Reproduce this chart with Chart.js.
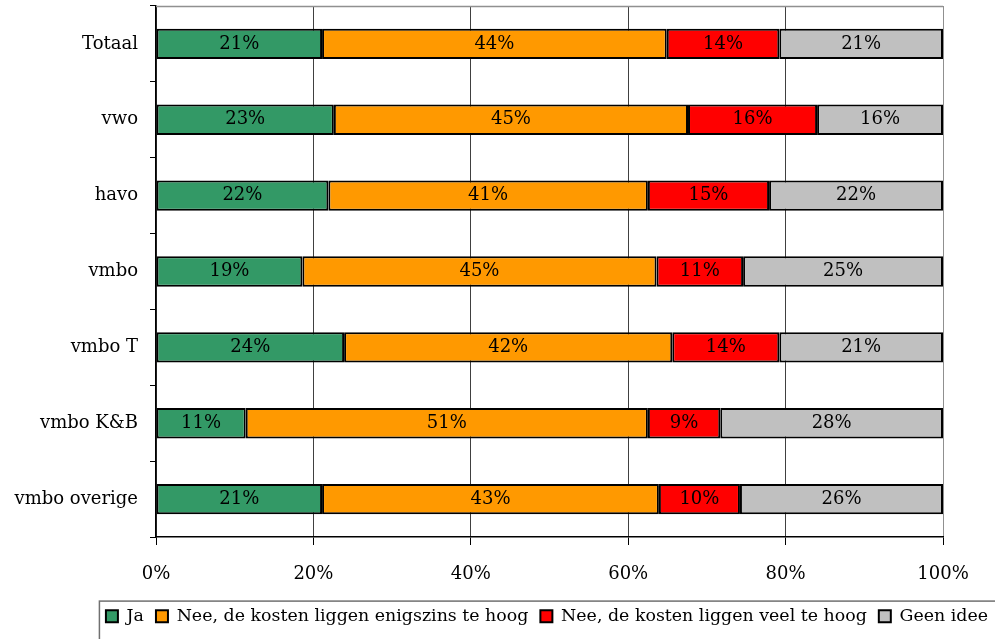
<!DOCTYPE html>
<html>
<head>
<meta charset="utf-8">
<script src="https://cdn.jsdelivr.net/npm/chart.js@4/dist/chart.umd.min.js"></script>
<style>
html,body{margin:0;padding:0;background:#fff;}
#wrap{width:995px;height:639px;position:relative;}
</style>
</head>
<body>
<div id="wrap"><canvas id="c" width="995" height="639"></canvas></div>
<script>
const categories = ['Totaal', 'vwo', 'havo', 'vmbo', 'vmbo T', 'vmbo K&B', 'vmbo overige'];
const seriesNames = ['Ja', 'Nee, de kosten liggen enigszins te hoog', 'Nee, de kosten liggen veel te hoog', 'Geen idee'];
const ja        = [21.1, 22.6, 21.9, 18.6, 23.9, 11.4, 21.1];
const enigszins = [43.8, 45.0, 40.6, 45.0, 41.7, 51.1, 42.8];
const veel      = [14.3, 16.4, 15.4, 11.0, 13.6, 9.2, 10.3];
const geenIdee  = [20.8, 16.0, 22.1, 25.4, 20.8, 28.3, 25.8];
const xTicks = [0, 20, 40, 60, 80, 100];

const colors = ['#339966', '#FF9900', '#FF0000', '#C0C0C0'];
const FONT = 'DejaVu Serif';
const FS = 18;
const LEGEND_FS = 17.4;

const seriesData = [ja, enigszins, veel, geenIdee];

const labelPlugin = {
  id: 'segLabels',
  afterDatasetsDraw(chart) {
    const ctx = chart.ctx;
    ctx.save();
    ctx.font = FS + 'px "' + FONT + '"';
    ctx.fillStyle = '#000';
    ctx.textAlign = 'center';
    ctx.textBaseline = 'middle';
    chart.data.datasets.forEach((ds, i) => {
      const meta = chart.getDatasetMeta(i);
      meta.data.forEach((bar, j) => {
        const v = ds.data[j];
        const p = bar.getProps(['x', 'base', 'y'], true);
        ctx.fillText(Math.round(v) + '%', (p.x + p.base) / 2, p.y);
      });
    });
    ctx.restore();
  }
};

const framePlugin = {
  id: 'frame',
  beforeDatasetsDraw(chart) {
    const a = chart.chartArea, ctx = chart.ctx;
    ctx.save();
    ctx.strokeStyle = '#909090';
    ctx.lineWidth = 1.5;
    ctx.beginPath();
    ctx.moveTo(a.left, a.top + 0.5);
    ctx.lineTo(a.right, a.top + 0.5);
    ctx.stroke();
    ctx.restore();
  },
  afterDraw(chart) {
    const lg = chart.legend;
    if (!lg || !lg.legendHitBoxes || !lg.legendHitBoxes.length) return;
    const hb = lg.legendHitBoxes;
    const ctx = chart.ctx;
    const left = hb[0].left - 7;
    const top = hb[0].top - 7;
    ctx.save();
    ctx.strokeStyle = '#707070';
    ctx.lineWidth = 1.5;
    ctx.strokeRect(left + 0.5, top + 0.5, chart.width + 20 - left, chart.height + 20 - top);
    ctx.restore();
  }
};

new Chart(document.getElementById('c'), {
  type: 'bar',
  data: {
    labels: categories,
    datasets: seriesData.map((d, i) => ({
      label: seriesNames[i],
      data: d,
      backgroundColor: colors[i],
      borderColor: '#000',
      borderWidth: 2,
      borderSkipped: false,
      barPercentage: 0.4,
      categoryPercentage: 1.0
    }))
  },
  options: {
    indexAxis: 'y',
    responsive: false,
    animation: false,
    devicePixelRatio: 1,
    layout: { padding: { top: 6, right: -5, left: 0, bottom: 4 } },
    font: { family: FONT, size: FS },
    scales: {
      x: {
        stacked: true,
        min: 0,
        max: 100,
        afterBuildTicks(scale) { scale.ticks = xTicks.map(v => ({ value: v })); },
        afterFit(scale) { scale.height = 58.6; },
        ticks: {
          color: '#000',
          font: { family: FONT, size: FS },
          padding: 19,
          callback: v => v + '%'
        },
        grid: {
          color: ctx => (ctx.tick && ctx.tick.value === 100) ? '#909090' : '#404040',
          lineWidth: 1,
          tickLength: 8,
          tickColor: '#000'
        },
        border: { color: '#000', width: 1.5 }
      },
      y: {
        stacked: true,
        afterFit(scale) { scale.width = 156; scale.paddingTop = 0; scale.paddingBottom = 0; },
        ticks: {
          color: '#000',
          font: { family: FONT, size: FS },
          padding: 12
        },
        grid: {
          offset: true,
          drawOnChartArea: false,
          tickLength: 6,
          color: '#000'
        },
        border: { color: '#000', width: 1.5 }
      },
      yRight: {
        type: 'category',
        labels: categories,
        position: 'right',
        afterFit(scale) { scale.width = 57; scale.paddingTop = 0; scale.paddingBottom = 0; },
        ticks: { display: false },
        grid: { display: false },
        border: { display: false }
      }
    },
    plugins: {
      legend: {
        position: 'bottom',
        align: 'end',
        labels: {
          color: '#000',
          font: { family: FONT, size: LEGEND_FS },
          boxWidth: 12,
          boxHeight: 12,
          padding: 12
        }
      },
      tooltip: { enabled: false }
    }
  },
  plugins: [labelPlugin, framePlugin]
});
</script>
</body>
</html>
